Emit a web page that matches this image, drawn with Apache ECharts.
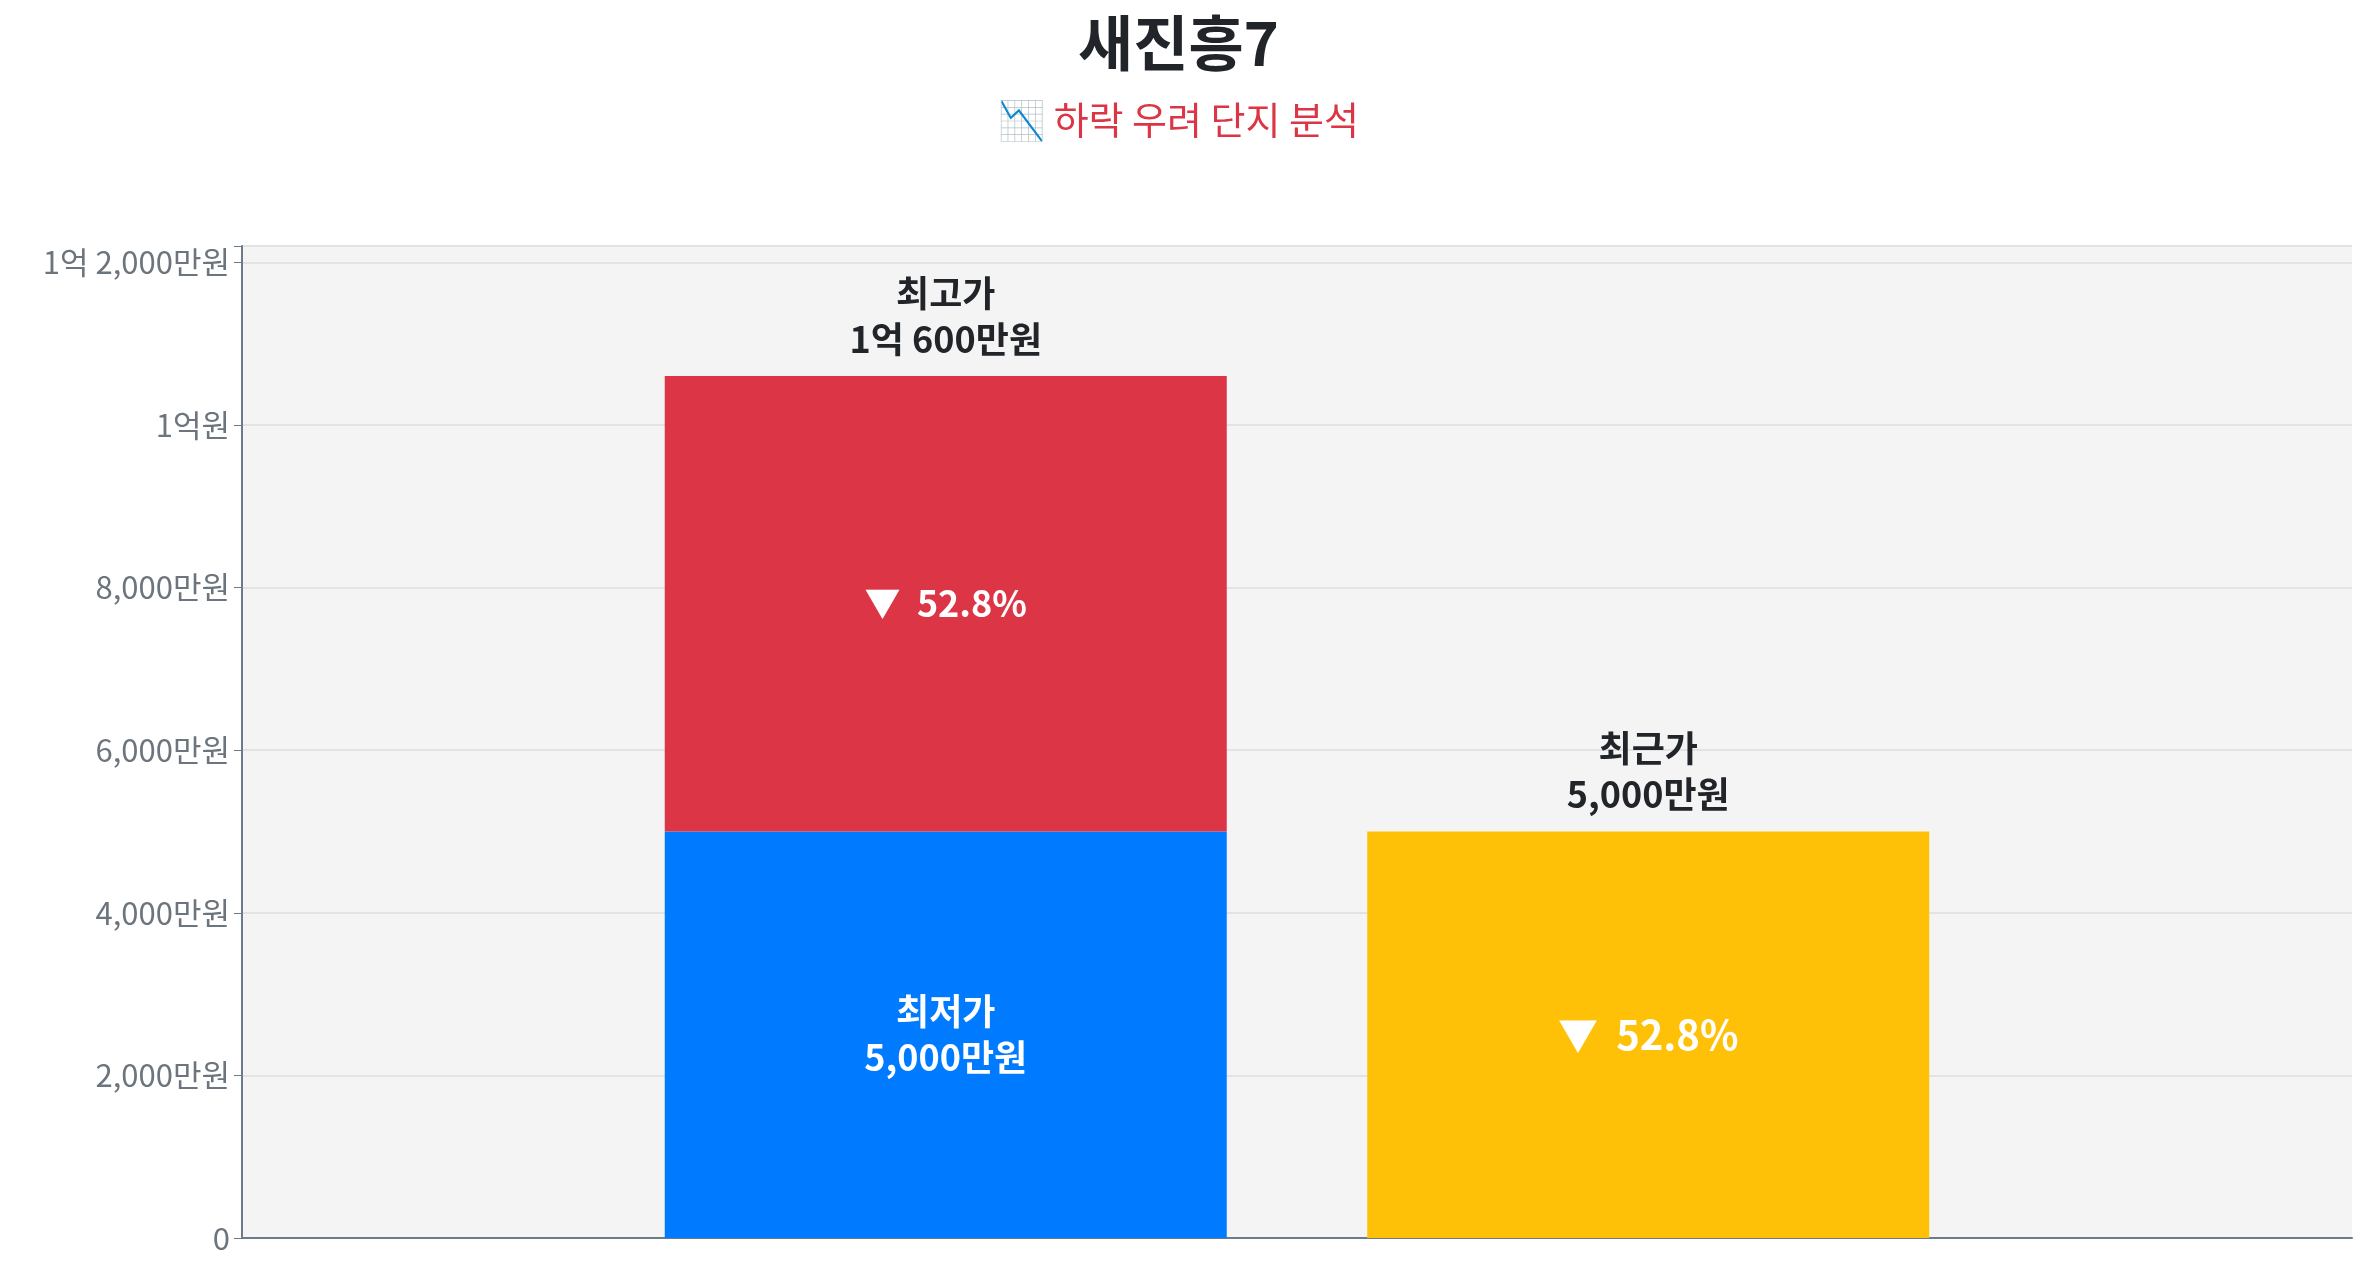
<!DOCTYPE html><html><head><meta charset="utf-8"><script src="https://cdn.jsdelivr.net/npm/echarts@6/dist/echarts.min.js"></script>
<style>html,body{margin:0;padding:0;background:#fff}#c{width:2357px;height:1268px}</style></head><body><div id="c"></div><script>
const categories=['가격'];
const lowPrice=[5000];
const highExtra=[5600];
const recentPrice=[5000];
const dropPct=['52.8%'];
const F='"Noto Sans CJK KR", "Noto Sans", sans-serif';
function fmt(v){if(v===0)return '0';const e=Math.floor(v/10000),m=v%10000;const ms=m.toLocaleString('en-US')+'만원';if(e===0)return ms;if(m===0)return e+'억원';return e+'억 '+ms;}
const chart=echarts.init(document.getElementById('c'));
chart.setOption({
 title:{text:'새진흥7',subtext:'\u{1F4C9} 하락 우려 단지 분석',left:'center',top:8,itemGap:28,
  textStyle:{fontFamily:F,fontSize:60,fontWeight:'bold',color:'#212529'},
  subtextStyle:{fontFamily:F,fontSize:38,color:'#dc3545'}},
 grid:{left:242,right:5,top:246,bottom:30,show:true,backgroundColor:'#f4f4f4',borderWidth:0},
 xAxis:{type:'category',data:categories,axisLabel:{show:false},axisTick:{show:false},axisLine:{lineStyle:{color:'#6c7a89',width:2}}},
 yAxis:{type:'value',min:0,max:12200,interval:2000,axisLine:{show:true,lineStyle:{color:'#6c7a89',width:2}},axisTick:{show:true,length:8},
  splitLine:{lineStyle:{color:'#e3e3e3',width:2}},
  axisLabel:{fontFamily:F,fontSize:31,color:'#6c757d',margin:12,formatter:v=>v>12000?'':fmt(v)}},
 series:[
  {type:'bar',stack:'a',data:lowPrice,barWidth:562,barGap:'25%',itemStyle:{color:'#007bff'},
   label:{show:true,position:'inside',fontFamily:F,fontSize:36,fontWeight:'bold',color:'#fff',lineHeight:46,formatter:p=>'최저가\n'+fmt(p.value)}},
  {type:'bar',stack:'b',data:recentPrice,barWidth:562,itemStyle:{color:'#ffc107'},
   label:{show:true,position:'inside',fontFamily:F,fontSize:40,fontWeight:'bold',color:'#fff',formatter:()=>'▼  '+dropPct[0]}},
  {type:'bar',stack:'a',data:highExtra,barWidth:562,itemStyle:{color:'#dc3545'},
   label:{show:true,position:'inside',fontFamily:F,fontSize:36,fontWeight:'bold',color:'#fff',formatter:()=>'▼  '+dropPct[0]}},
  {type:'bar',stack:'a',data:[0],barWidth:562,
   label:{show:true,position:'top',distance:14,fontFamily:F,fontSize:36,fontWeight:'bold',color:'#212529',lineHeight:46,formatter:()=>'최고가\n'+fmt(lowPrice[0]+highExtra[0])}},
  {type:'bar',stack:'b',data:[0],barWidth:562,
   label:{show:true,position:'top',distance:14,fontFamily:F,fontSize:36,fontWeight:'bold',color:'#212529',lineHeight:46,formatter:()=>'최근가\n'+fmt(recentPrice[0])}}
 ]});
</script></body></html>
